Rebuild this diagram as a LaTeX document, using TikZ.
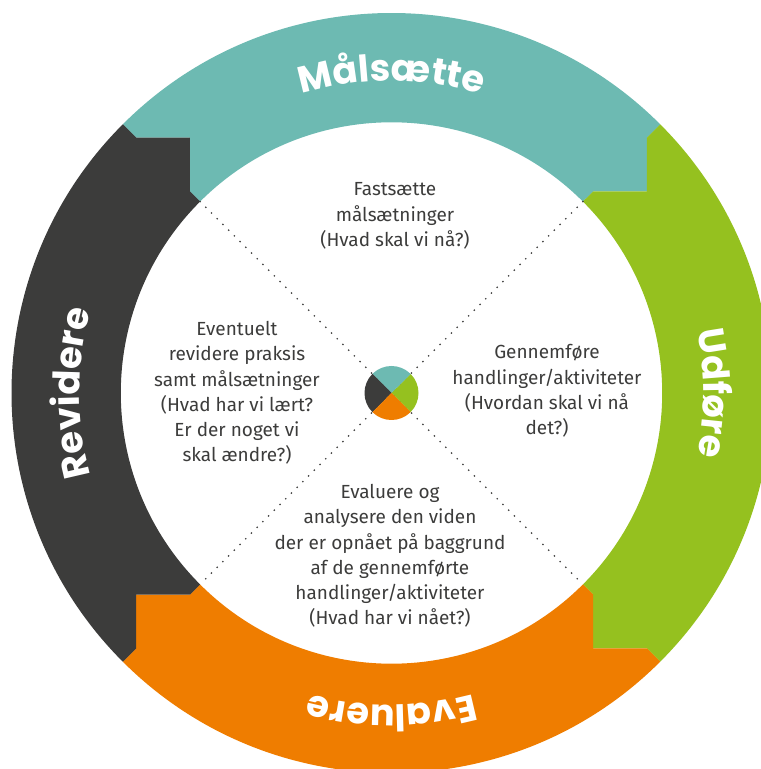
\documentclass[tikz,border=0pt]{standalone}
\usepackage{fontspec}
\setmainfont{Fira Sans}
\newfontfamily\ringfont{Poppins}
\usetikzlibrary{decorations.text}
\definecolor{cyclteal}{HTML}{6DBAB2}
\definecolor{cyclgreen}{HTML}{95C11F}
\definecolor{cyclorange}{HTML}{EF7D00}
\definecolor{cycldark}{HTML}{3C3C3B}

\tikzset{
  phasetext/.style={align=center, text=cycldark,
    font=\fontsize{10.8}{14.4}\selectfont},
  ringlabel/.style={decorate, decoration={text along path, text align=center,
    text={|\ringfont\bfseries\fontsize{21}{25}\selectfont\color{white}|#1}}},
  guide/.style={cycldark, line width=1.1pt, line cap=round,
    dash pattern=on 0pt off 4.6pt},
}

\begin{document}
\begin{tikzpicture}[x=0.02cm, y=0.02cm]
  \useasboundingbox (0,0) rectangle (761,769);
  \clip (0,0) rectangle (761,769);
  \coordinate (hub) at (391.5,376);

  % one ring piece per phase; each carries a square arrow head into the next
  \foreach \ang/\col/\lab in {0/cyclteal/Målsætte, -90/cyclgreen/Udføre,
      -180/cyclorange/Evaluere, 90/cycldark/Revidere}{
    \begin{scope}[shift={(hub)}, rotate=\ang]
      \fill[\col] (135:380) arc[start angle=135, end angle=45, radius=380]
        -- (45:361) -- (255.27,201.53) -- (45:285) -- (45:270.7)
        arc[start angle=45, end angle=135, radius=270.7]
        -- (135:285) -- (-201.53,255.27) -- (135:361) -- cycle;
      \path[ringlabel=\lab] (135:312) arc[start angle=135, end angle=45, radius=312];
    \end{scope}
  }

  % dotted quarter lines
  \coordinate (nw) at ([shift={(135:270.7)}]hub);
  \coordinate (se) at ([shift={(-45:270.7)}]hub);
  \coordinate (ne) at ([shift={(45:270.7)}]hub);
  \coordinate (sw) at ([shift={(-135:270.7)}]hub);
  \draw[guide] (nw) -- (se);
  \draw[guide] (ne) -- (sw);

  % small pie in the middle
  \foreach \col [count=\i] in {cyclgreen, cyclteal, cycldark, cyclorange}
    \fill[\col] (hub) -- ++({-135+90*\i}:27)
      arc[start angle={-135+90*\i}, delta angle=90, radius=27] -- cycle;

  \node[phasetext] (goal) at (395,553)
    {Fastsætte\\målsætninger\\(Hvad skal vi nå?)};
  \node[phasetext] (act) at (547,378)
    {Gennemføre\\handlinger/aktiviteter\\(Hvordan skal vi nå\\det?)};
  \node[phasetext] (eval) at (390,213)
    {Evaluere og\\analysere den viden\\der er opnået på baggrund\\af de gennemførte\\handlinger/aktiviteter\\(Hvad har vi nået?)};
  \node[phasetext] (revise) at (237,376)
    {Eventuelt\\revidere praksis\\samt målsætninger\\(Hvad har vi lært?\\Er der noget vi\\skal ændre?)};
\end{tikzpicture}
\end{document}
